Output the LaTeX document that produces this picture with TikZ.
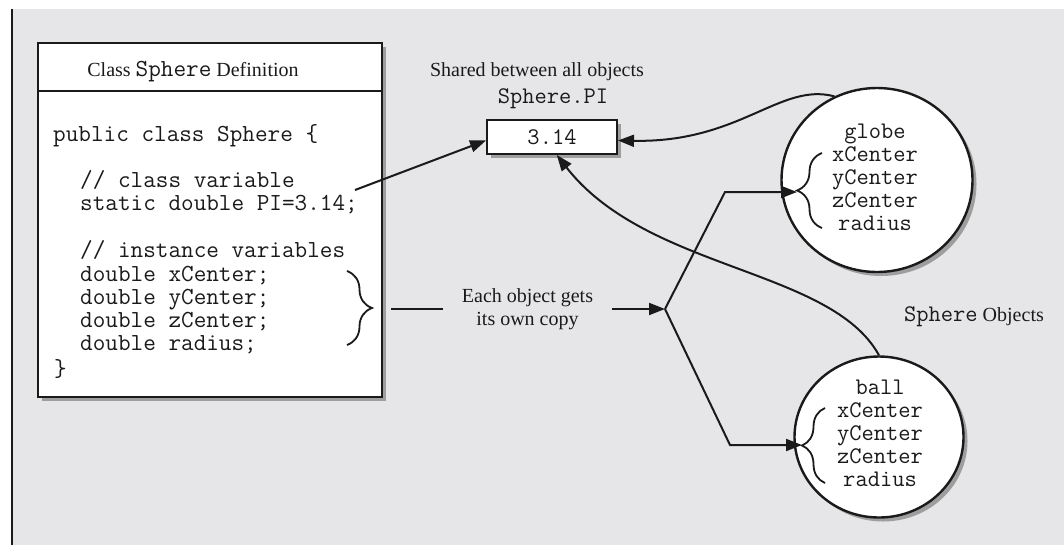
\documentclass[tikz,border=0pt]{standalone}
\usepackage{fontspec}
\setmainfont{Liberation Serif}
\usetikzlibrary{arrows.meta,shapes.geometric,shadows,decorations.pathreplacing}
\definecolor{bgray}{HTML}{E6E6E8}
\definecolor{ink}{HTML}{1A1A1A}
\begin{document}
\begin{tikzpicture}[x=1pt,y=-1pt,
  shbox/.style={draw=ink,line width=2pt,fill=white,
    drop shadow={shadow xshift=4pt,shadow yshift=-4pt,fill=black!38,opacity=1}},
  code/.style={font=\fontsize{24.5}{23}\selectfont\ttfamily,text=ink,inner sep=0pt,anchor=base west},
  objtxt/.style={font=\fontsize{23.8}{23}\selectfont\ttfamily,text=ink,inner sep=0pt,anchor=base},
  lbl/.style={font=\fontsize{20}{23}\selectfont,text=ink,inner sep=0pt,anchor=base},
  conn/.style={draw=ink,line width=2pt},
  arr/.style={-{Triangle[length=16pt,width=12pt]}},
  brc/.style={draw=ink,line width=1.8pt,decorate,decoration={brace,amplitude=#1}},
]
\useasboundingbox (0,0) rectangle (1064,547);
\fill[white] (0,0) rectangle (1064,547);
\fill[bgray] (11,9) rectangle (1064,545);
\draw[ink,line width=2pt] (11.5,9) -- (11.5,545);

% class definition box
\node[shbox,minimum width=344pt,minimum height=354pt,inner sep=0pt] (defbox) at (210,220) {};
\draw[ink,line width=1.6pt] (defbox.north west) ++(0,49) -- ++(344,0);
\node[lbl] (title) at (193,76) {Class {\fontsize{24.5}{23}\selectfont\ttfamily Sphere} Definition};

\node[code] (c1) at (53,141) {public class Sphere \{};
\node[code] (c2) at (80,187) {// class variable};
\node[code] (c3) at (80,210) {static double PI=3.14;};
\node[code] (c4) at (80,257) {// instance variables};
\node[code] (c5) at (80,281) {double xCenter;};
\node[code] (c6) at (80,304) {double yCenter;};
\node[code] (c7) at (80,327) {double zCenter;};
\node[code] (c8) at (80,350) {double radius;};
\node[code] (c9) at (54,376) {\}};
\draw[brc=25pt] (347,271) -- (347,345);

% shared PI
\node[lbl] (shared) at (537,76) {Shared between all objects};
\node[objtxt] (pilabel) at (553,103) {Sphere.PI};
\node[shbox,minimum width=130pt,minimum height=34pt,inner sep=0pt,
  font=\fontsize{23.8}{23}\selectfont\ttfamily,text=ink] (pibox) at (552,137) {3.14};

% objects
\node[shbox,ellipse,line width=2.4pt,minimum width=191pt,minimum height=184pt,inner sep=0pt] (globe) at (877,180) {};
\node[shbox,ellipse,line width=2.4pt,minimum width=169pt,minimum height=161pt,inner sep=0pt] (ball) at (879,437) {};
\node[objtxt] (g1) at (875,138) {globe};
\node[objtxt] (g2) at (875,161) {xCenter};
\node[objtxt] (g3) at (875,184) {yCenter};
\node[objtxt] (g4) at (875,207) {zCenter};
\node[objtxt] (g5) at (875,230) {radius};
\node[objtxt] (b1) at (880,394) {ball};
\node[objtxt] (b2) at (880,417) {xCenter};
\node[objtxt] (b3) at (880,440) {yCenter};
\node[objtxt] (b4) at (880,463) {zCenter};
\node[objtxt] (b5) at (880,486) {radius};
\draw[brc=25pt] (822,228) -- (822,153);
\draw[brc=23pt] (825,483) -- (825,408);
\node[lbl] (objlabel) at (974,321) {{\fontsize{23.8}{23}\selectfont\ttfamily Sphere} Objects};

% each object gets its own copy
\node[font=\fontsize{20}{23}\selectfont,text=ink,align=center,minimum width=169pt,inner sep=0pt] (each) at (527.5,309) {Each object gets\\its own copy};

% connectors
\coordinate (piS) at (355,190);
\coordinate (lstart) at (391,309);
\coordinate (j) at (665,309);
\coordinate (k1) at (725,192);
\coordinate (k2) at (730,445);
\coordinate (gt) at (797,192);
\coordinate (bt) at (802,445);

\draw[conn,arr] (piS) -- (pibox.183);
\draw[conn,arr] (globe.117) .. controls (780,82) and (740,143) .. (pibox.-3);
\draw[conn,arr] (ball.north) .. controls (831,268) and (647,271) .. (pibox.-75);
\draw[conn] (lstart) -- (each.west);
\draw[conn,arr] (each.east) -- (j);
\draw[conn,arr] (j) -- (k1) -- (gt);
\draw[conn,arr] (j) -- (k2) -- (bt);
\end{tikzpicture}
\end{document}
